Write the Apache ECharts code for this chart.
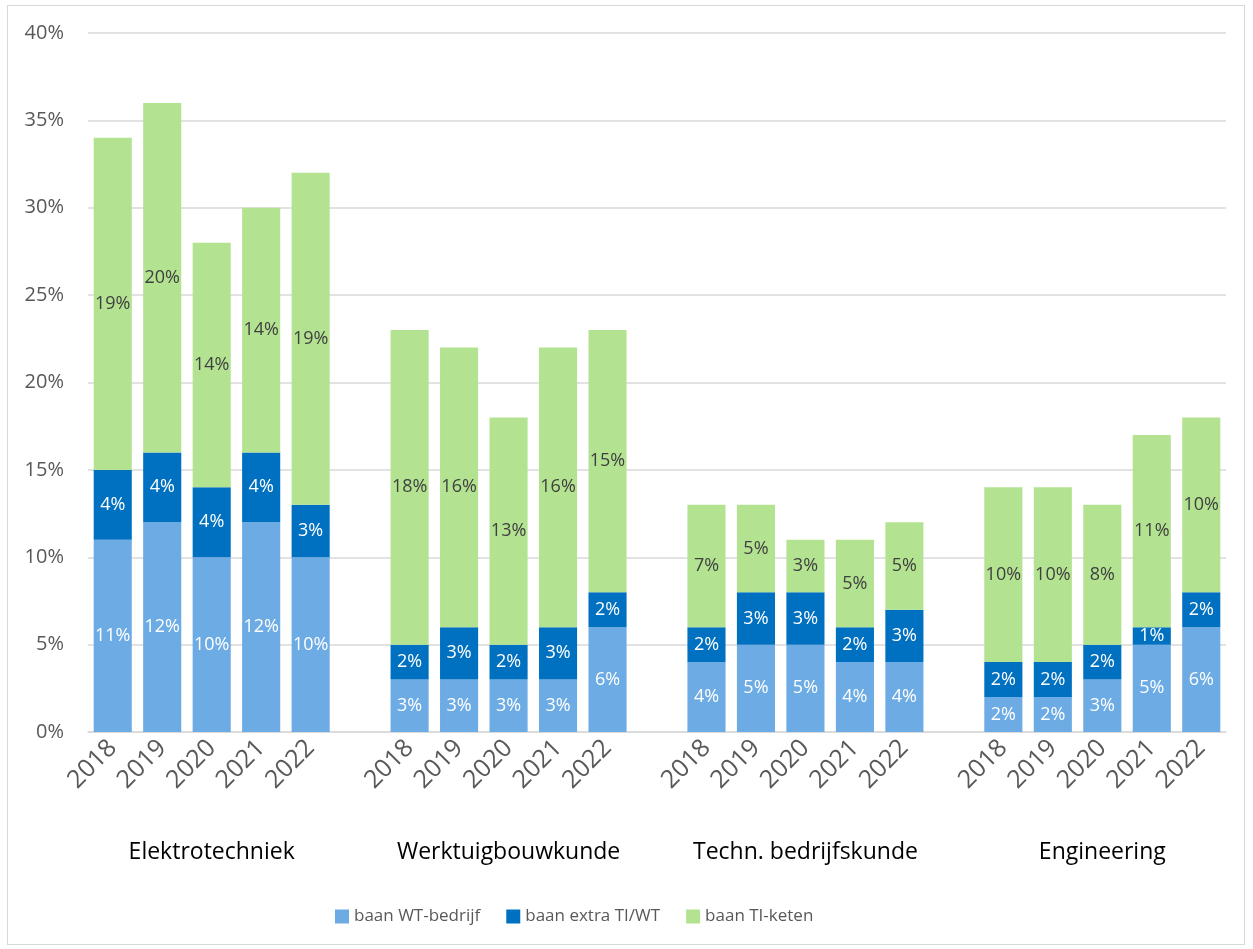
<!DOCTYPE html>
<html>
<head>
<meta charset="utf-8">
<script src="https://cdn.jsdelivr.net/npm/echarts@6/dist/echarts.min.js"></script>
<style>
  html, body { margin: 0; padding: 0; background: #fff; }
  #chart { position: absolute; left: 7px; top: 5px; width: 1238px; height: 940px; border: 1px solid #d9d9d9; box-sizing: border-box; }
</style>
</head>
<body>
<div id="chart"></div>
<script>
// tick labels / categories
const groups = ["Elektrotechniek", "Werktuigbouwkunde", "Techn. bedrijfskunde", "Engineering"];
const years = ["2018", "2019", "2020", "2021", "2022"];

// values in %, per group 5 years
const wtBedrijf = [11, 12, 10, 12, 10, 3, 3, 3, 3, 6, 4, 5, 5, 4, 4, 2, 2, 3, 5, 6];
const extraTiWt = [4, 4, 4, 4, 3, 2, 3, 2, 3, 2, 2, 3, 3, 2, 3, 2, 2, 2, 1, 2];
const tiKeten = [19, 20, 14, 14, 19, 18, 16, 13, 16, 15, 7, 5, 3, 5, 5, 10, 10, 8, 11, 10];

const seriesNames = ["baan WT-bedrijf", "baan extra TI/WT", "baan TI-keten"];

// build category slots with an empty slot between groups
const yearSlots = [];
const groupSlots = [];
function spread(values) {
  const out = [];
  groups.forEach((g, gi) => {
    if (gi > 0) out.push(null);
    years.forEach((y, yi) => out.push(values[gi * years.length + yi]));
  });
  return out;
}
groups.forEach((g, gi) => {
  if (gi > 0) { yearSlots.push(""); groupSlots.push(""); }
  years.forEach((y, yi) => {
    yearSlots.push(y);
    groupSlots.push(yi === 2 ? g : "");
  });
});

const font = "'Open Sans', 'Noto Sans', sans-serif";
const chart = echarts.init(document.getElementById("chart"));

function barSeries(name, values, color, labelColor) {
  return {
    name: name,
    type: "bar",
    stack: "total",
    barCategoryGap: "23%",
    data: spread(values),
    itemStyle: { color: color },
    label: {
      show: true,
      position: "inside",
      formatter: "{c}%",
      color: labelColor,
      fontSize: 18,
      fontFamily: font
    }
  };
}

chart.setOption({
  animation: false,
  textStyle: { fontFamily: font },
  grid: { left: 80, right: 18, top: 27, bottom: 212 },
  xAxis: [
    {
      type: "category",
      data: yearSlots,
      axisLine: { lineStyle: { color: "#d9d9d9", width: 1.5 } },
      axisTick: { show: false },
      axisLabel: { interval: 0, rotate: 45, color: "#595959", fontSize: 25, fontFamily: font, margin: 12 }
    },
    {
      type: "category",
      data: groupSlots,
      position: "bottom",
      offset: 101,
      axisLine: { show: false },
      axisTick: { show: false },
      axisLabel: { interval: 0, color: "#000", fontSize: 23, fontFamily: font }
    }
  ],
  yAxis: {
    type: "value",
    min: 0,
    max: 40,
    interval: 5,
    axisLine: { show: false },
    axisTick: { show: false },
    splitLine: { lineStyle: { color: "#d9d9d9", width: 1.5 } },
    axisLabel: { formatter: "{value}%", color: "#595959", fontSize: 20, fontFamily: font, margin: 24 }
  },
  legend: {
    bottom: 14,
    left: 322,
    icon: "rect",
    itemWidth: 14,
    itemHeight: 14,
    itemGap: 26,
    textStyle: { color: "#595959", fontSize: 17, fontFamily: font }
  },
  series: [
    barSeries(seriesNames[0], wtBedrijf, "#6CABE3", "#ffffff"),
    barSeries(seriesNames[1], extraTiWt, "#0070C0", "#ffffff"),
    barSeries(seriesNames[2], tiKeten, "#B3E391", "#404040")
  ]
});
</script>
</body>
</html>
